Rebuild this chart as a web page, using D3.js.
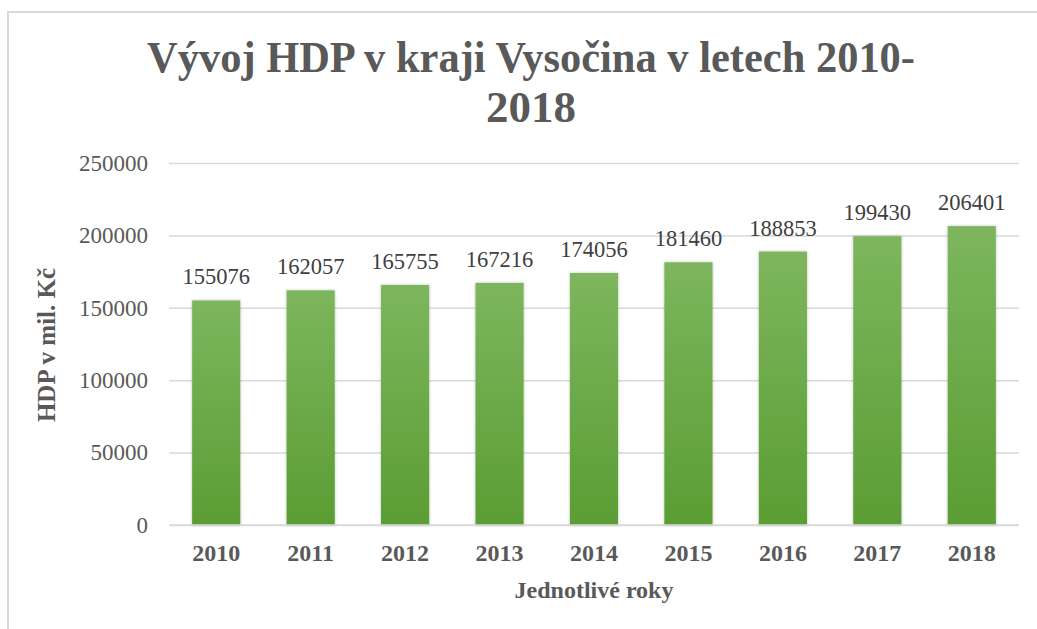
<!DOCTYPE html>
<html><head><meta charset="utf-8">
<script src="https://cdn.jsdelivr.net/npm/d3@7/dist/d3.min.js"></script>
<style>html,body{margin:0;padding:0;background:#fff;}svg{display:block;}</style>
</head><body>
<svg id="c" width="1037" height="629"></svg>
<script>
const years = ["2010","2011","2012","2013","2014","2015","2016","2017","2018"];
const hdp = [155076,162057,165755,167216,174056,181460,188853,199430,206401];
const yTicks = [0,50000,100000,150000,200000,250000];
const titleLines = ["Vývoj HDP v kraji Vysočina v letech 2010-","2018"];
const xTitle = "Jednotlivé roky";
const yTitle = "HDP v mil. Kč";

const W = 1037, H = 629;
const m = {left:169, right:1019, top:163, bottom:525};
const svg = d3.select("#c");
const font = "'Liberation Serif', serif";

// frame
svg.append("rect").attr("x",8).attr("y",12).attr("width",W+10).attr("height",H+10)
  .attr("fill","#fff").attr("stroke","#d9d9d9").attr("stroke-width",2);

const defs = svg.append("defs");
const g = defs.append("linearGradient").attr("id","bg").attr("x1",0).attr("y1",0).attr("x2",0).attr("y2",1);
g.append("stop").attr("offset","0%").attr("stop-color","#7db65e");
g.append("stop").attr("offset","100%").attr("stop-color","#5b9d33");
const f = defs.append("filter").attr("id","sh").attr("x","-20%").attr("y","-5%").attr("width","140%").attr("height","115%");
f.append("feDropShadow").attr("dx",0).attr("dy",0).attr("stdDeviation",1.5).attr("flood-color","#000").attr("flood-opacity",0.25);

const x = d3.scaleBand().domain(years).range([m.left,m.right]).paddingInner(0.49).paddingOuter(0.245);
const y = d3.scaleLinear().domain([0,250000]).range([m.bottom,m.top]);

// gridlines
const ya = svg.append("g").attr("transform",`translate(${m.left},0)`)
  .call(d3.axisLeft(y).tickValues(yTicks).tickSize(-(m.right-m.left)).tickPadding(21).tickFormat(d=>String(d)));
ya.select(".domain").remove();
ya.selectAll(".tick line").attr("stroke","#d9d9d9").attr("stroke-width",1.5);
ya.selectAll(".tick text").attr("fill","#595959").attr("font-family",font).attr("font-size","23px");

// bars
svg.append("g").selectAll("rect").data(hdp).join("rect")
  .attr("x",(d,i)=>x(years[i])).attr("width",x.bandwidth())
  .attr("y",d=>y(d)).attr("height",d=>y(0)-y(d))
  .attr("fill","url(#bg)").attr("filter","url(#sh)");

// zero line on top
svg.append("line").attr("x1",m.left).attr("x2",m.right).attr("y1",y(0)).attr("y2",y(0))
  .attr("stroke","#d9d9d9").attr("stroke-width",1.5);

// data labels
svg.append("g").selectAll("text").data(hdp).join("text")
  .attr("x",(d,i)=>x(years[i])+x.bandwidth()/2).attr("y",d=>y(d)-16)
  .attr("text-anchor","middle").attr("fill","#404040")
  .attr("font-family",font).attr("font-size","22.5px").text(d=>d);

// x axis
const xa = svg.append("g").attr("transform",`translate(0,${m.bottom})`)
  .call(d3.axisBottom(x).tickSize(0).tickPadding(19));
xa.select(".domain").remove();
xa.selectAll(".tick text").attr("fill","#595959").attr("font-family",font)
  .attr("font-size","24px").attr("font-weight","bold");

// titles
const t = svg.append("text").attr("text-anchor","middle").attr("fill","#595959")
  .attr("font-family",font).attr("font-size","45px").attr("font-weight","bold");
t.append("tspan").attr("x",531).attr("y",72).attr("textLength",768).attr("lengthAdjust","spacingAndGlyphs").text(titleLines[0]);
t.append("tspan").attr("x",531).attr("y",122).text(titleLines[1]);

svg.append("text").attr("x",594).attr("y",598).attr("text-anchor","middle").attr("fill","#595959")
  .attr("font-family",font).attr("font-size","24px").attr("font-weight","bold").text(xTitle);
svg.append("text").attr("transform","translate(55,345) rotate(-90)").attr("text-anchor","middle").attr("fill","#595959")
  .attr("font-family",font).attr("font-size","25px").attr("font-weight","bold").text(yTitle);
</script>
</body></html>
